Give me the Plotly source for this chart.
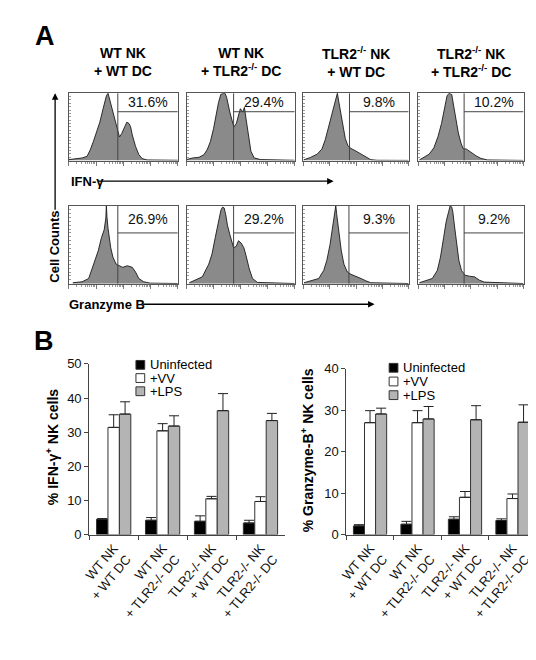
import numpy as np
import plotly.graph_objects as go

W, H = 536, 660
FONT = "Liberation Sans, Arial, sans-serif"

# ---------------- Panel A data ----------------
col_titles = ["WT NK<br>+ WT DC", "WT NK<br>+ TLR2<sup>-/-</sup> DC",
              "TLR2<sup>-/-</sup> NK<br>+ WT DC", "TLR2<sup>-/-</sup> NK<br>+ TLR2<sup>-/-</sup> DC"]
ifn_pct = ["31.6%", "29.4%", "9.8%", "10.2%"]
gzb_pct = ["26.9%", "29.2%", "9.3%", "9.2%"]
ifn_gate = [1.80, 1.74, 1.75, 1.74]      # gate position (log decades)
gzb_gate = [1.80, 1.74, 1.73, 1.74]
ifn_gate_level = 72.5                    # gate box lower edge (% of max)
gzb_gate_level = 65.0

# histograms: position in log decades (0-4) and counts (% of max)
ifn_wtwt_pos = [0.01, 0.25, 0.49, 0.67, 0.79, 0.90, 1.02, 1.14, 1.26, 1.38, 1.44, 1.50, 1.56, 1.68, 1.77, 1.86, 1.94, 2.04, 2.13, 2.21, 2.27, 2.33, 2.45, 2.57, 2.69, 2.87, 4.0]
ifn_wtwt_cnt = [1.5, 2.9, 3.9, 6.3, 16, 28, 43, 57, 77, 96, 100, 91, 82, 62, 48, 35, 40, 50, 57, 55, 50, 38, 21, 9, 3, 1, 0.5]
ifn_wtko_pos = [0.00, 0.22, 0.46, 0.64, 0.76, 0.88, 1.00, 1.08, 1.18, 1.27, 1.36, 1.42, 1.48, 1.54, 1.60, 1.68, 1.75, 1.84, 1.92, 1.99, 2.08, 2.14, 2.20, 2.28, 2.38, 2.50, 2.74, 4.0]
ifn_wtko_cnt = [1.5, 3.9, 4.9, 8.7, 16, 28, 48, 67, 86, 98.5, 100, 100, 94, 82, 72, 60, 50, 55, 67, 77, 72, 79, 62, 38, 14, 4, 1.5, 0.5]
ifn_kowt_pos = [0.00, 0.27, 0.52, 0.70, 0.83, 0.95, 1.07, 1.20, 1.29, 1.35, 1.42, 1.51, 1.59, 1.69, 1.81, 2.00, 2.19, 2.37, 2.56, 2.80, 4.0]
ifn_kowt_cnt = [1, 4.8, 9.6, 17, 31, 50, 69, 89, 100, 86, 69, 50, 33, 22, 18, 14, 9.6, 4.8, 1.4, 0.5, 0.3]
ifn_koko_pos = [0.04, 0.22, 0.41, 0.59, 0.75, 0.88, 0.99, 1.09, 1.17, 1.27, 1.33, 1.42, 1.52, 1.62, 1.70, 1.83, 2.01, 2.20, 2.38, 2.63, 4.0]
ifn_koko_cnt = [1, 4.8, 9.6, 19, 36, 55, 77, 96, 100, 98, 84, 60, 41, 26, 18, 17, 12, 7, 3.3, 1, 0.3]

gzb_wtwt_pos = [0.15, 0.49, 0.73, 0.90, 1.08, 1.20, 1.30, 1.36, 1.38, 1.40, 1.44, 1.54, 1.62, 1.74, 1.86, 1.98, 2.15, 2.33, 2.45, 2.57, 2.75, 2.99, 4.0]
gzb_wtwt_cnt = [1.3, 2.5, 6.7, 25, 42, 59, 69, 84, 100, 86, 71, 46, 34, 25, 23, 21, 23, 21, 15, 6.7, 2.5, 0.8, 0.3]
gzb_wtko_pos = [0.10, 0.34, 0.58, 0.82, 0.94, 1.06, 1.18, 1.27, 1.33, 1.39, 1.45, 1.51, 1.60, 1.68, 1.74, 1.84, 1.92, 2.02, 2.12, 2.20, 2.32, 2.44, 2.62, 4.0]
gzb_wtko_cnt = [1.3, 4.6, 8.8, 25, 38, 59, 80, 94, 98, 97, 88, 75, 63, 52, 46, 48, 55, 52, 46, 36, 19, 6.7, 1.7, 0.3]
gzb_kowt_pos = [0.02, 0.33, 0.58, 0.77, 0.89, 1.01, 1.11, 1.17, 1.21, 1.23, 1.26, 1.30, 1.36, 1.44, 1.54, 1.67, 1.81, 2.00, 2.19, 2.37, 2.56, 4.0]
gzb_kowt_cnt = [1.3, 3.8, 6.7, 17, 30, 50, 71, 84, 92, 100, 90, 80, 63, 42, 25, 15, 12, 9.6, 6.7, 3.8, 1.3, 0.3]
gzb_koko_pos = [0.04, 0.28, 0.53, 0.72, 0.84, 0.96, 1.06, 1.15, 1.21, 1.27, 1.31, 1.37, 1.46, 1.54, 1.64, 1.77, 1.95, 2.14, 2.32, 2.51, 4.0]
gzb_koko_cnt = [1.3, 3.8, 6.7, 17, 34, 59, 80, 92, 100, 98, 92, 75, 50, 30, 17, 11, 9.6, 8.8, 4.6, 2.1, 0.3]

# ---------------- Panel B data ----------------
groups = ["WT NK<br>+ WT DC", "WT NK<br>+ TLR2-/- DC", "TLR2-/- NK<br>+ WT DC", "TLR2-/- NK<br>+ TLR2-/- DC"]
series_names = ["Uninfected", "+VV", "+LPS"]
series_colors = ["#000000", "#ffffff", "#b4b4b4"]

ifn_uninf = [4.5, 4.2, 3.9, 3.4]
ifn_uninf_sd = [0.2, 0.8, 1.6, 0.8]
ifn_vv = [31.4, 30.4, 10.5, 9.7]
ifn_vv_sd = [3.7, 2.1, 0.7, 1.4]
ifn_lps = [35.3, 31.8, 36.3, 33.4]
ifn_lps_sd = [3.6, 3.0, 5.0, 2.1]

gzb_uninf = [2.1, 2.5, 3.7, 3.4]
gzb_uninf_sd = [0.3, 0.7, 0.6, 0.4]
gzb_vv = [27.0, 27.0, 9.0, 8.7]
gzb_vv_sd = [2.9, 2.9, 1.4, 1.1]
gzb_lps = [29.1, 27.9, 27.7, 27.1]
gzb_lps_sd = [1.4, 3.0, 3.4, 4.2]


def px(x):
    return x / W


def py(y):
    return 1 - y / H


fig = go.Figure()
layout = {}
shapes = []
annotations = []

hists = [(ifn_wtwt_pos, ifn_wtwt_cnt), (ifn_wtko_pos, ifn_wtko_cnt), (ifn_kowt_pos, ifn_kowt_cnt), (ifn_koko_pos, ifn_koko_cnt),
         (gzb_wtwt_pos, gzb_wtwt_cnt), (gzb_wtko_pos, gzb_wtko_cnt), (gzb_kowt_pos, gzb_kowt_cnt), (gzb_koko_pos, gzb_koko_cnt)]
cols_px = [(48, 160), (169, 280), (289, 397), (407, 515)]
rows_px = [(80, 149), (195, 275)]
minor_vals = [m * 10 ** k for k in range(4) for m in range(2, 10)]

for r in range(2):
    gates = ifn_gate if r == 0 else gzb_gate
    level = ifn_gate_level if r == 0 else gzb_gate_level
    pcts = ifn_pct if r == 0 else gzb_pct
    for c in range(4):
        i = r * 4 + c + 1
        xa = "x" if i == 1 else f"x{i}"
        ya = "y" if i == 1 else f"y{i}"
        xk = "xaxis" if i == 1 else f"xaxis{i}"
        yk = "yaxis" if i == 1 else f"yaxis{i}"
        pos, cnt = hists[i - 1]
        fig.add_trace(go.Scatter(x=10 ** np.array(pos), y=cnt, xaxis=xa, yaxis=ya, mode="lines",
                                 line=dict(color="#1a1a1a", width=0.9), fill="tozeroy",
                                 fillcolor="#8a8a8a", hoverinfo="skip", showlegend=False))
        x0, x1 = cols_px[c]
        y0, y1 = rows_px[r]
        layout[xk] = dict(domain=[px(x0), px(x1)], type="log", range=[0, 4], anchor=ya,
                          showline=True, mirror=True, linecolor="#555", linewidth=1,
                          ticks="outside", ticklen=4, tickcolor="#777", tickwidth=1,
                          tickvals=[1, 10, 100, 1000, 10000], showticklabels=False,
                          minor=dict(ticks="outside", ticklen=2, tickcolor="#999", tickvals=minor_vals),
                          showgrid=False, zeroline=False)
        layout[yk] = dict(domain=[py(y1), py(y0)], range=[0, 100], anchor=xa,
                          showline=True, mirror=True, linecolor="#555", linewidth=1,
                          ticks="inside", ticklen=2, dtick=5, tickcolor="#999",
                          showticklabels=False, showgrid=False, zeroline=False)
        g = 10 ** gates[c]
        shapes.append(dict(type="line", xref=xa, yref=ya, x0=g, x1=g, y0=0, y1=100,
                           line=dict(color="#444", width=1)))
        shapes.append(dict(type="line", xref=xa, yref=ya, x0=g, x1=10 ** 4, y0=level, y1=level,
                           line=dict(color="#444", width=1)))
        annotations.append(dict(xref=xa, yref=ya, x=(gates[c] + 4) / 2, y=(level + 100) / 2,
                                text=pcts[c], showarrow=False, xanchor="center", yanchor="middle",
                                font=dict(family=FONT, size=14, color="#111")))

for c in range(4):
    x0, x1 = cols_px[c]
    annotations.append(dict(xref="paper", yref="paper", x=px((x0 + x1) / 2), y=py(48),
                            text="<b>" + col_titles[c] + "</b>", showarrow=False,
                            xanchor="center", yanchor="middle",
                            font=dict(family=FONT, size=14, color="#000")))

# panel letters
annotations.append(dict(xref="paper", yref="paper", x=px(24), y=py(21), text="<b>A</b>", showarrow=False,
                        xanchor="center", yanchor="middle", font=dict(family=FONT, size=27, color="#000")))
annotations.append(dict(xref="paper", yref="paper", x=px(23), y=py(334), text="<b>B</b>", showarrow=False,
                        xanchor="center", yanchor="middle", font=dict(family=FONT, size=27, color="#000")))

# axis labels & arrows panel A
annotations.append(dict(xref="paper", yref="paper", x=px(34), y=py(237), text="<b>Cell Counts</b>",
                        textangle=-90, showarrow=False, xanchor="center", yanchor="middle",
                        font=dict(family=FONT, size=13, color="#000")))
annotations.append(dict(xref="paper", yref="paper", x=px(34), y=py(80), text="", showarrow=True,
                        ax=0, ay=118, arrowhead=2, arrowsize=1, arrowwidth=1.3, arrowcolor="#000"))
annotations.append(dict(xref="paper", yref="paper", x=px(48), y=py(170), text="<b>IFN-γ</b>",
                        showarrow=False, xanchor="left", yanchor="middle",
                        font=dict(family=FONT, size=13, color="#000")))
annotations.append(dict(xref="paper", yref="paper", x=px(320), y=py(170), text="", showarrow=True,
                        ax=-237, ay=0, arrowhead=2, arrowsize=1, arrowwidth=1.3, arrowcolor="#000"))
annotations.append(dict(xref="paper", yref="paper", x=px(46), y=py(296), text="<b>Granzyme B</b>",
                        showarrow=False, xanchor="left", yanchor="middle",
                        font=dict(family=FONT, size=13, color="#000")))
annotations.append(dict(xref="paper", yref="paper", x=px(362), y=py(296), text="", showarrow=True,
                        ax=-233, ay=0, arrowhead=2, arrowsize=1, arrowwidth=1.3, arrowcolor="#000"))

# ---------------- Panel B bars ----------------
bar_sets = [
    ("x9", "y9", [ifn_uninf, ifn_vv, ifn_lps], [ifn_uninf_sd, ifn_vv_sd, ifn_lps_sd]),
    ("x10", "y10", [gzb_uninf, gzb_vv, gzb_lps], [gzb_uninf_sd, gzb_vv_sd, gzb_lps_sd]),
]
for xa, ya, means, sds in bar_sets:
    for k in range(3):
        fig.add_trace(go.Bar(x=groups, y=means[k], name=series_names[k], xaxis=xa, yaxis=ya,
                             marker=dict(color=series_colors[k], line=dict(color="#333", width=1)),
                             error_y=dict(type="data", symmetric=False, array=sds[k],
                                          arrayminus=[0] * len(sds[k]), color="#222",
                                          thickness=1, width=5),
                             offsetgroup=str(k), showlegend=False, hoverinfo="skip"))

bar_axes = [("xaxis9", "yaxis9", "x9", "y9", (69, 270), (357, 531.7), [0, 50]),
            ("xaxis10", "yaxis10", "x10", "y10", (333, 528), (362, 531.7), [0, 40])]
for xk, yk, xa, ya, (bx0, bx1), (by0, by1), yr in bar_axes:
    layout[xk] = dict(domain=[px(bx0), px(bx1)], anchor=ya, type="category",
                      showline=True, linecolor="#444", linewidth=1, tickson="boundaries",
                      ticks="outside", ticklen=4, tickcolor="#444", tickangle=-50,
                      tickfont=dict(family=FONT, size=13, color="#111"), showgrid=False, zeroline=False)
    layout[yk] = dict(domain=[py(by1), py(by0)], anchor=xa, range=yr, dtick=10,
                      showline=True, linecolor="#444", linewidth=1, ticks="outside", ticklen=4,
                      tickcolor="#444", tickfont=dict(family=FONT, size=13, color="#111"),
                      showgrid=False, zeroline=False)

annotations.append(dict(xref="paper", yref="paper", x=px(31), y=py(442),
                        text="<b>% IFN-γ<sup>+</sup> NK cells</b>", textangle=-90, showarrow=False,
                        xanchor="center", yanchor="middle", font=dict(family=FONT, size=14, color="#000")))
annotations.append(dict(xref="paper", yref="paper", x=px(293), y=py(445),
                        text="<b>% Granzyme-B<sup>+</sup> NK cells</b>", textangle=-90, showarrow=False,
                        xanchor="center", yanchor="middle", font=dict(family=FONT, size=14, color="#000")))

# manual legends
legend_pos = [(117, [358, 371.5, 385]), (377, [361, 375, 389])]
for lx, lys in legend_pos:
    for k in range(3):
        ly = lys[k]
        shapes.append(dict(type="rect", xref="paper", yref="paper", x0=px(lx), x1=px(lx + 9),
                           y0=py(ly + 4.5), y1=py(ly - 4.5), fillcolor=series_colors[k],
                           line=dict(color="#333", width=1)))
        annotations.append(dict(xref="paper", yref="paper", x=px(lx + 12), y=py(ly),
                                text=series_names[k], showarrow=False, xanchor="left", yanchor="middle",
                                font=dict(family=FONT, size=13, color="#000")))

fig.update_layout(width=W, height=H, margin=dict(l=0, r=0, t=0, b=0),
                  paper_bgcolor="white", plot_bgcolor="white", showlegend=False,
                  barmode="group", bargap=0.3, bargroupgap=0.0,
                  font=dict(family=FONT), shapes=shapes, annotations=annotations, **layout)

fig.write_html("out.html")
